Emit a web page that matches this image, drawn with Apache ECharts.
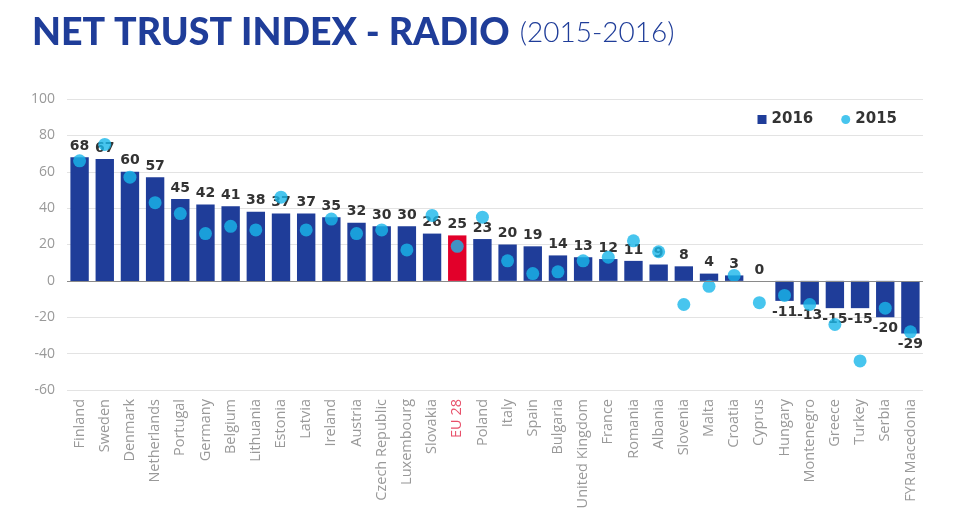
<!DOCTYPE html>
<html><head><meta charset="utf-8">
<script src="https://cdn.jsdelivr.net/npm/echarts@6/dist/echarts.min.js"></script>
<style>html,body{margin:0;padding:0;background:#fff}#c{width:964px;height:521px}</style>
</head><body><div id="c"></div>
<script>
const categories = ['Finland','Sweden','Denmark','Netherlands','Portugal','Germany','Belgium','Lithuania','Estonia','Latvia','Ireland','Austria','Czech Republic','Luxembourg','Slovakia','EU 28','Poland','Italy','Spain','Bulgaria','United Kingdom','France','Romania','Albania','Slovenia','Malta','Croatia','Cyprus','Hungary','Montenegro','Greece','Turkey','Serbia','FYR Macedonia'];
const values2016 = [68,67,60,57,45,42,41,38,37,37,35,32,30,30,26,25,23,20,19,14,13,12,11,9,8,4,3,0,-11,-13,-15,-15,-20,-29];
const values2015 = [66,75,57,43,37,26,30,28,46,28,34,26,28,17,36,19,35,11,4,5,11,13,22,16,-13,-3,3,-12,-8,-13,-24,-44,-15,-28];
const yTicks = {min:-60, max:100, interval:20};
const highlight = 'EU 28';

const BLUE = '#1f3d99', RED = '#e2002a', CYAN = '#19b7ea';
const chart = echarts.init(document.getElementById('c'), null, {renderer:'canvas'});
const barData = values2016.map((v,i)=>({
  value: v,
  itemStyle: {color: categories[i]===highlight ? RED : BLUE},
  label: {position: v < 0 ? 'bottom' : 'top'}
}));
chart.setOption({
  animation:false,
  title:{
    left:27, top:9,
    text:'{a|NET TRUST INDEX - RADIO}{s| }{b|(2015-2016)}',
    textStyle:{rich:{
      a:{fontFamily:'Lato', fontWeight:900, fontSize:37.5, color:BLUE},
      s:{width:10},
      b:{fontFamily:'Lato', fontWeight:300, fontSize:28, color:BLUE}
    }}
  },
  legend:{
    right:62, top:107, itemGap:28, itemWidth:9, itemHeight:9,
    textStyle:{fontFamily:'DejaVu Sans', fontWeight:'bold', fontSize:15, color:'#333'},
    data:[{name:'2016', icon:'rect'},{name:'2015', icon:'circle'}]
  },
  grid:{left:67, right:41, top:99, bottom:131, containLabel:false},
  xAxis:{
    type:'category',
    data: categories.map(c=> c===highlight ? {value:c, textStyle:{color:'#e8506a'}} : c),
    axisLine:{show:false, onZero:false}, axisTick:{show:false},
    axisLabel:{rotate:90, interval:0, margin:9, fontFamily:'Open Sans', fontSize:14.5, color:'#999'}
  },
  yAxis:{
    type:'value', min:yTicks.min, max:yTicks.max, interval:yTicks.interval,
    axisLine:{show:false}, axisTick:{show:false},
    axisLabel:{fontFamily:'Open Sans', fontSize:14, color:'#999', margin:12},
    splitLine:{lineStyle:{color:'#e3e3e3', width:1}}
  },
  series:[
    {name:'2016', type:'bar', data:barData, barWidth:'73%', itemStyle:{color:BLUE},
     label:{show:true, distance:4, fontFamily:'DejaVu Sans', fontWeight:'bold', fontSize:14, color:'#333'},
     markLine:{silent:true, symbol:'none', label:{show:false},
       lineStyle:{color:'#8a8a8a', type:'solid', width:1}, data:[{yAxis:0}]}},
    {name:'2015', type:'scatter', data:values2015, symbolSize:13, itemStyle:{color:CYAN}, z:3}
  ]
});
</script></body></html>
